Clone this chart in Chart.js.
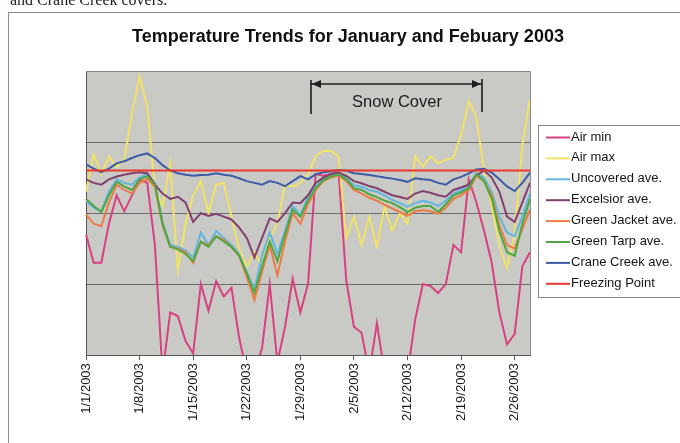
<!DOCTYPE html>
<html>
<head>
<meta charset="utf-8">
<script src="https://cdn.jsdelivr.net/npm/chart.js@4"></script>
<style>
html,body{margin:0;padding:0;background:#fdfdfb;}
#wrap{width:680px;height:443px;position:relative;}
</style>
</head>
<body>
<div id="wrap"><canvas id="c" width="680" height="443"></canvas></div>
<script>
const dates = ['1/1/2003','1/2/2003','1/3/2003','1/4/2003','1/5/2003','1/6/2003','1/7/2003','1/8/2003','1/9/2003','1/10/2003',
'1/11/2003','1/12/2003','1/13/2003','1/14/2003','1/15/2003','1/16/2003','1/17/2003','1/18/2003','1/19/2003','1/20/2003',
'1/21/2003','1/22/2003','1/23/2003','1/24/2003','1/25/2003','1/26/2003','1/27/2003','1/28/2003','1/29/2003','1/30/2003',
'1/31/2003','2/1/2003','2/2/2003','2/3/2003','2/4/2003','2/5/2003','2/6/2003','2/7/2003','2/8/2003','2/9/2003',
'2/10/2003','2/11/2003','2/12/2003','2/13/2003','2/14/2003','2/15/2003','2/16/2003','2/17/2003','2/18/2003','2/19/2003',
'2/20/2003','2/21/2003','2/22/2003','2/23/2003','2/24/2003','2/25/2003','2/26/2003','2/27/2003','2/28/2003'];

const airMin = [14,6,6,17,25,20.5,25,29.5,28.5,11,-25,-8,-9,-16,-19.5,0,-7.5,0.8,-3.5,-1,
-15,-25,-25,-18,0,-22,-12,1.5,-8,0,31,30.5,31,31.5,1,-12,-13.7,-25,-11,-25,
-25,-25,-25,-10,0,-0.5,-2.5,0,11,9,29.5,23,15,6,-8,-17,-14,5,9];
const airMax = [26,36.5,31,36,33,35,48,58.5,50,27,22,34,4,17,25,29,20,28,28.5,19,
10,5,9,5,13,17,28,27.5,28.5,31,36,37.5,37.5,36,13,19,11,19,10.5,22,
15,20,17,36,33,36,34,35,35.5,42,51.5,47,32,22,11,4.5,14,39,52];
const uncovered = [23.5,21.5,20.5,26,29.5,28.5,28,30,31,28.5,17.5,11,10.5,9.5,7.5,14.5,11,15,13,11,
8.5,3.5,-1.5,8,14.5,8.5,15,22,19.5,24.5,27.5,29.5,30.5,31,30,27.8,27.4,26.5,26,25,
23.7,22.8,21.8,22.8,23.5,23,22,23.5,25.5,26.5,27.8,31.2,30,26,19,14.5,13.5,19,25.5];
const excelsior = [29.5,28.5,28,29.5,30.3,30.8,31.2,31.5,31.2,28,25.5,24,24.6,23,17.5,20,19.2,19.8,19,18.2,
16,13,7.5,13,18.5,17.5,20,23,22.8,25,28.5,30,31,31.4,30.5,29,28.4,27.6,27,26,
25,24.5,24,25.5,26.2,25.7,25,24.6,26.5,27.2,28,30.5,32,30,26,19,17.5,23,28.5];
const greenJacket = [19.6,17,16.3,23,28,26.5,25.5,28.5,29.6,27.5,16.5,10.5,10,9,6,12,11,13.5,12.5,10.5,
8,2,-4.5,3.5,11,2.5,12,20,17,22.5,26.5,29,30,30.6,29,26.5,25.5,24.3,23.5,22.3,
21.3,20.3,19.2,20.5,20.8,20.5,19.8,21.5,24,25,26.5,30.5,29,25,16.5,11,10,15.5,21];
const greenTarp = [24,22,20.3,25,28.8,27.5,26.5,29.5,30.4,28,17,10.5,9.8,8.5,6.5,12,10.5,13.5,12,10.5,
8,3,-2.5,5,12,6.5,14,21,19,23.5,27,29.2,30.3,30.9,29.5,27,26.5,25.3,24.5,23.5,
22.8,21.7,20.3,21.5,22,22,20.3,22.5,25,25.8,27,31,29,24,15,9,8,17,24];
const craneCreek = [33.7,32.5,31.5,32.5,34,34.6,35.5,36.3,36.8,35.5,33.5,32,31.2,30.8,30.5,30.7,30.8,31.2,30.8,30.5,
29.8,29,28.5,28,29,28.5,27.6,29,30.4,29.5,30.9,31.5,31.8,32.1,32,31.2,31,30.7,30.4,30,
29.7,29.3,28.8,29.8,29.5,29.3,28.5,28,29.5,30.2,31.2,32.3,32.5,31.4,29.5,27.5,26.2,28.5,31.4];
const freezing = dates.map(() => 32);

const seriesNames = ['Air min','Air max','Uncovered ave.','Excelsior ave.','Green Jacket ave.','Green Tarp ave.','Crane Creek ave.','Freezing Point'];
const seriesData = [airMin, airMax, uncovered, excelsior, greenJacket, greenTarp, craneCreek, freezing];
const seriesColors = ['#d8407f','#f2e266','#62b6df','#81406f','#ef7a45','#4ea83e','#3d5ba6','#e8392c'];

const yTicks = [-20, 0, 20, 40, 60];
const titleText = 'Temperature Trends for January and Febuary 2003';
const snowText = 'Snow Cover';
const FONT = "'Liberation Sans', Arial, sans-serif";

const decor = {
  id: 'decor',
  beforeDraw(chart) {
    const ctx = chart.ctx, a = chart.chartArea;
    ctx.save();
    ctx.fillStyle = '#fdfdfb';
    ctx.fillRect(0, 0, chart.width, chart.height);
    ctx.fillStyle = '#222';
    ctx.font = "16px 'Liberation Serif', 'Times New Roman', serif";
    ctx.textBaseline = 'alphabetic';
    ctx.fillText('and Crane Creek covers.', 10, 5);
    ctx.fillStyle = '#ffffff';
    ctx.fillRect(8.5, 12.5, 700, 500);
    ctx.strokeStyle = '#8a8a8a';
    ctx.lineWidth = 1;
    ctx.strokeRect(8.5, 12.5, 700, 500);
    ctx.fillStyle = '#c9c9c6';
    ctx.fillRect(a.left, a.top, a.right - a.left, a.bottom - a.top);
    ctx.restore();
  },
  afterDraw(chart) {
    const ctx = chart.ctx, a = chart.chartArea;
    ctx.save();
    ctx.strokeStyle = '#8a8a8a';
    ctx.lineWidth = 1;
    ctx.beginPath();
    ctx.moveTo(a.left, a.top + 0.5); ctx.lineTo(a.right + 0.5, a.top + 0.5); ctx.lineTo(a.right + 0.5, a.bottom);
    ctx.stroke();
    ctx.fillStyle = '#111';
    ctx.font = 'bold 18px ' + FONT;
    ctx.textAlign = 'center';
    ctx.textBaseline = 'middle';
    ctx.fillText(titleText, 348, 37);
    const x1 = 311, x2 = 482, yl = 84;
    ctx.strokeStyle = '#1e1e1e';
    ctx.fillStyle = '#1e1e1e';
    ctx.lineWidth = 1.6;
    ctx.beginPath();
    ctx.moveTo(x1, yl); ctx.lineTo(x2, yl);
    ctx.moveTo(x1, 80); ctx.lineTo(x1, 114);
    ctx.moveTo(x2, 79); ctx.lineTo(x2, 112);
    ctx.stroke();
    ctx.beginPath();
    ctx.moveTo(x1 + 1, yl); ctx.lineTo(x1 + 10, yl - 4); ctx.lineTo(x1 + 10, yl + 4); ctx.closePath(); ctx.fill();
    ctx.beginPath();
    ctx.moveTo(x2 - 1, yl); ctx.lineTo(x2 - 10, yl - 4); ctx.lineTo(x2 - 10, yl + 4); ctx.closePath(); ctx.fill();
    ctx.font = '16.5px ' + FONT;
    ctx.fillStyle = '#1a1a1a';
    ctx.fillText(snowText, 397, 102);
    ctx.strokeStyle = '#8a8a8a';
    ctx.lineWidth = 1;
    ctx.fillStyle = '#ffffff';
    ctx.fillRect(538.5, 125.5, 200, 172);
    ctx.strokeRect(538.5, 125.5, 200, 172);
    ctx.textAlign = 'left';
    ctx.textBaseline = 'middle';
    ctx.font = '13px ' + FONT;
    seriesNames.forEach((n, i) => {
      const y = 137 + i * 20.9;
      ctx.strokeStyle = seriesColors[i];
      ctx.lineWidth = 2;
      ctx.beginPath(); ctx.moveTo(546, y + 0.5); ctx.lineTo(570, y + 0.5); ctx.stroke();
      ctx.fillStyle = '#151515';
      ctx.fillText(n, 571, y);
    });
    ctx.restore();
  }
};

new Chart(document.getElementById('c'), {
  type: 'line',
  data: {
    labels: dates,
    datasets: seriesNames.map((n, i) => ({
      label: n,
      data: seriesData[i],
      borderColor: seriesColors[i],
      borderWidth: 2,
      pointRadius: 0,
      tension: 0,
      fill: false,
      order: seriesNames.length - i
    }))
  },
  options: {
    responsive: false,
    animation: false,
    layout: { padding: { left: 86, right: 150, top: 71, bottom: 19 } },
    plugins: { legend: { display: false }, title: { display: false }, tooltip: { enabled: false } },
    scales: {
      x: {
        type: 'category',
        offset: false,
        grid: { display: true, drawOnChartArea: false, drawTicks: true, tickLength: 5, color: '#555' },
        border: { display: true, color: '#555', width: 1 },
        ticks: {
          autoSkip: false, maxRotation: 90, minRotation: 90, padding: 3,
          color: '#1a1a1a', font: { family: FONT, size: 13 },
          callback: (v, i) => (i % 7 === 0 ? dates[i] : null)
        }
      },
      y: {
        min: yTicks[0], max: yTicks[yTicks.length - 1],
        afterBuildTicks: (s) => { s.ticks = yTicks.map(v => ({ value: v })); },
        ticks: { display: false },
        grid: { color: '#6a6a6a', drawTicks: false, tickLength: 0 },
        border: { display: true, color: '#555', width: 1 }
      }
    }
  },
  plugins: [decor]
});
</script>
</body>
</html>
